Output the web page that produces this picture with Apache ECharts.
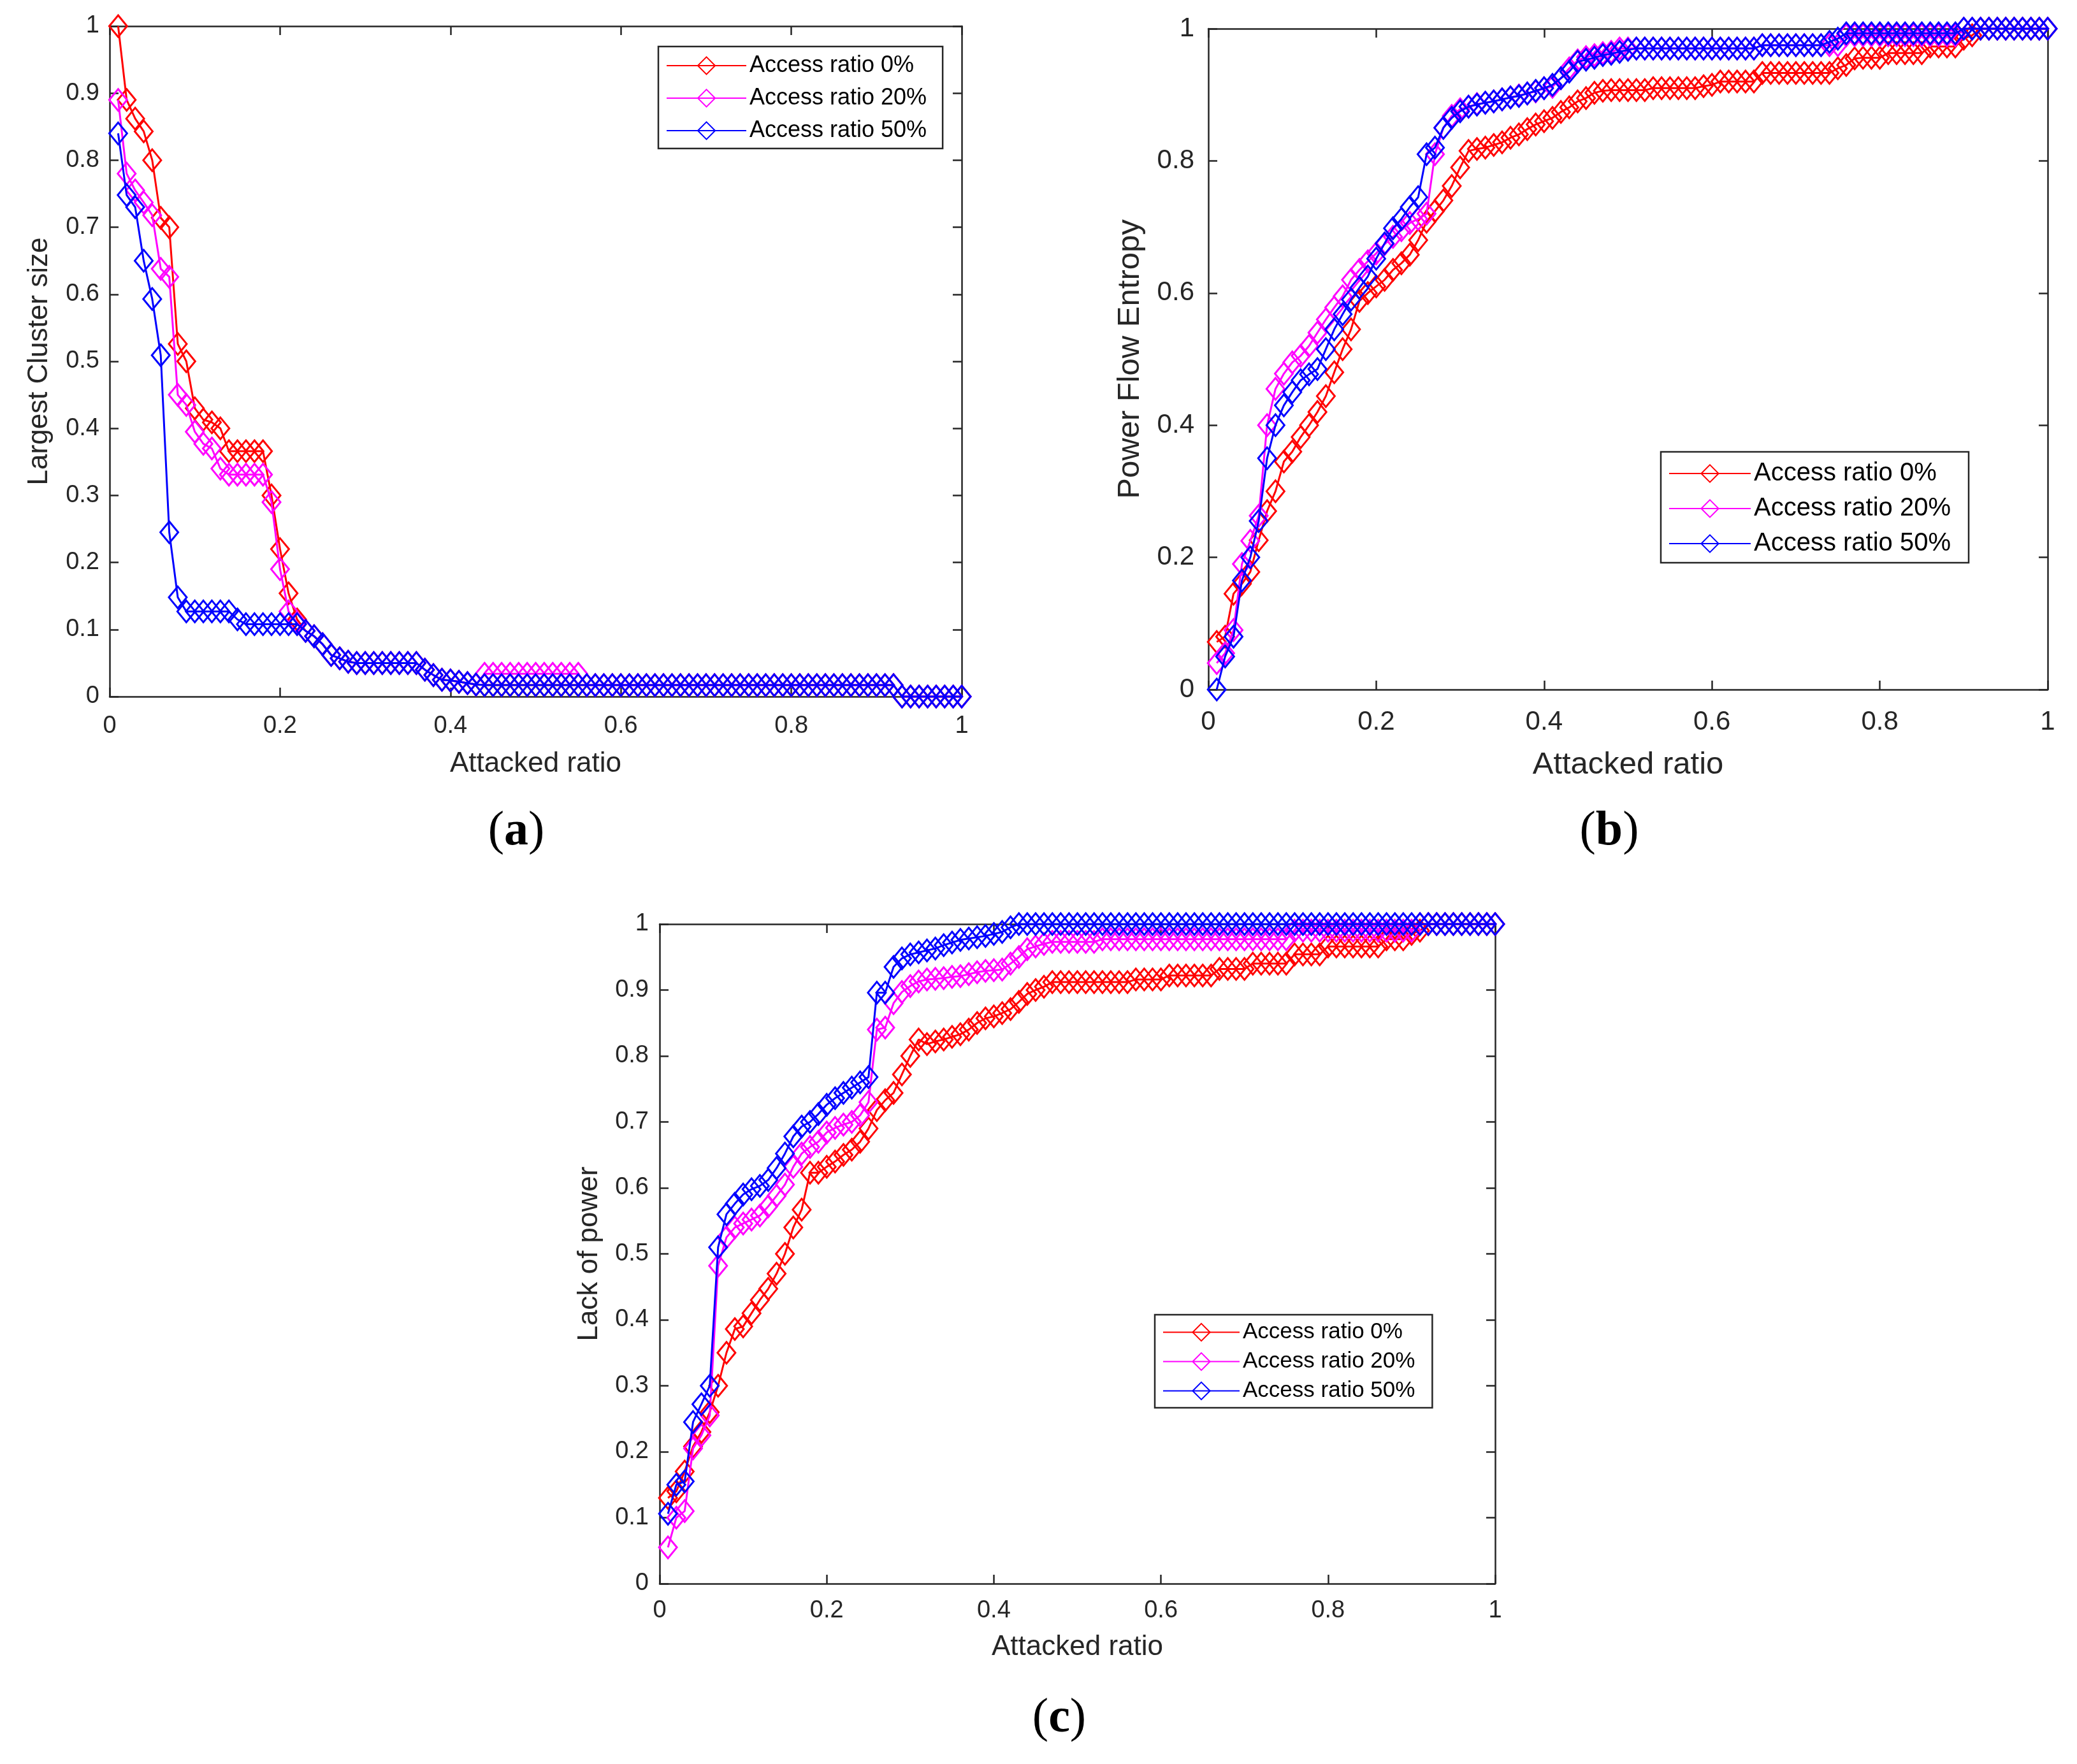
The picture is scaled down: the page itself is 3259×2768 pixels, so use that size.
<!DOCTYPE html>
<html>
<head>
<meta charset="utf-8">
<script src="https://cdn.jsdelivr.net/npm/echarts/dist/echarts.min.js"></script>
<style>
	html, body { margin: 0; padding: 0; background: #fff; }
	#chart { width: 3259px; height: 2768px; }
</style>
</head>
<body>
<div id="chart"></div>
<script>
// attacked ratio, shared by every curve
const xs = [
	0.01, 0.02, 0.03, 0.04, 0.05, 0.06, 0.07, 0.08, 0.09, 0.10,
	0.11, 0.12, 0.13, 0.14, 0.15, 0.16, 0.17, 0.18, 0.19, 0.20,
	0.21, 0.22, 0.23, 0.24, 0.25, 0.26, 0.27, 0.28, 0.29, 0.30,
	0.31, 0.32, 0.33, 0.34, 0.35, 0.36, 0.37, 0.38, 0.39, 0.40,
	0.41, 0.42, 0.43, 0.44, 0.45, 0.46, 0.47, 0.48, 0.49, 0.50,
	0.51, 0.52, 0.53, 0.54, 0.55, 0.56, 0.57, 0.58, 0.59, 0.60,
	0.61, 0.62, 0.63, 0.64, 0.65, 0.66, 0.67, 0.68, 0.69, 0.70,
	0.71, 0.72, 0.73, 0.74, 0.75, 0.76, 0.77, 0.78, 0.79, 0.80,
	0.81, 0.82, 0.83, 0.84, 0.85, 0.86, 0.87, 0.88, 0.89, 0.90,
	0.91, 0.92, 0.93, 0.94, 0.95, 0.96, 0.97, 0.98, 0.99, 1.00,
]

const seriesNames = ['Access ratio 0%', 'Access ratio 20%', 'Access ratio 50%']
const panelTags = ['a', 'b', 'c']
const yAxisNames = ['Largest Cluster size', 'Power Flow Entropy', 'Lack of power']
const xAxisName = 'Attacked ratio'

// (a) largest cluster size
const clusterAccess0 = [
	1.0, 0.89, 0.862, 0.843, 0.80, 0.714, 0.70, 0.526, 0.50, 0.43,
	0.413, 0.409, 0.40, 0.366, 0.366, 0.366, 0.366, 0.366, 0.30, 0.22,
	0.154, 0.115, 0.098, 0.09, 0.078, 0.062, 0.057, 0.052, 0.05, 0.05,
	0.05, 0.05, 0.05, 0.05, 0.05, 0.05, 0.04, 0.032, 0.025, 0.024,
	0.022, 0.02, 0.018, 0.017, 0.017, 0.017, 0.017, 0.017, 0.017, 0.017,
	0.017, 0.017, 0.017, 0.017, 0.017, 0.017, 0.017, 0.017, 0.017, 0.017,
	0.017, 0.017, 0.017, 0.017, 0.017, 0.017, 0.017, 0.017, 0.017, 0.017,
	0.017, 0.017, 0.017, 0.017, 0.017, 0.017, 0.017, 0.017, 0.017, 0.017,
	0.017, 0.017, 0.017, 0.017, 0.017, 0.017, 0.017, 0.017, 0.017, 0.017,
	0.017, 0.017, 0, 0, 0, 0, 0, 0, 0, 0,
]
const clusterAccess20 = [
	0.89, 0.78, 0.755, 0.737, 0.718, 0.638, 0.626, 0.45, 0.435, 0.395,
	0.377, 0.37, 0.34, 0.331, 0.331, 0.331, 0.331, 0.331, 0.29, 0.19,
	0.127, 0.11, 0.098, 0.09, 0.078, 0.062, 0.057, 0.052, 0.05, 0.05,
	0.05, 0.05, 0.05, 0.05, 0.05, 0.05, 0.04, 0.032, 0.025, 0.024,
	0.022, 0.02, 0.018, 0.034, 0.034, 0.034, 0.034, 0.034, 0.034, 0.034,
	0.034, 0.034, 0.034, 0.034, 0.034, 0.017, 0.017, 0.017, 0.017, 0.017,
	0.017, 0.017, 0.017, 0.017, 0.017, 0.017, 0.017, 0.017, 0.017, 0.017,
	0.017, 0.017, 0.017, 0.017, 0.017, 0.017, 0.017, 0.017, 0.017, 0.017,
	0.017, 0.017, 0.017, 0.017, 0.017, 0.017, 0.017, 0.017, 0.017, 0.017,
	0.017, 0.017, 0, 0, 0, 0, 0, 0, 0, 0,
]
const clusterAccess50 = [
	0.84, 0.748, 0.73, 0.65, 0.593, 0.509, 0.245, 0.148, 0.127, 0.127,
	0.127, 0.127, 0.127, 0.127, 0.115, 0.108, 0.108, 0.108, 0.108, 0.108,
	0.108, 0.108, 0.098, 0.09, 0.078, 0.062, 0.057, 0.052, 0.05, 0.05,
	0.05, 0.05, 0.05, 0.05, 0.05, 0.05, 0.04, 0.032, 0.025, 0.024,
	0.022, 0.02, 0.018, 0.017, 0.017, 0.017, 0.017, 0.017, 0.017, 0.017,
	0.017, 0.017, 0.017, 0.017, 0.017, 0.017, 0.017, 0.017, 0.017, 0.017,
	0.017, 0.017, 0.017, 0.017, 0.017, 0.017, 0.017, 0.017, 0.017, 0.017,
	0.017, 0.017, 0.017, 0.017, 0.017, 0.017, 0.017, 0.017, 0.017, 0.017,
	0.017, 0.017, 0.017, 0.017, 0.017, 0.017, 0.017, 0.017, 0.017, 0.017,
	0.017, 0.017, 0, 0, 0, 0, 0, 0, 0, 0,
]

// (b) power flow entropy
const entropyAccess0 = [
	0.072, 0.08, 0.145, 0.16, 0.178, 0.226, 0.27, 0.30, 0.345, 0.36,
	0.382, 0.40, 0.42, 0.444, 0.48, 0.515, 0.545, 0.588, 0.60, 0.61,
	0.62, 0.635, 0.645, 0.658, 0.68, 0.708, 0.724, 0.74, 0.762, 0.79,
	0.815, 0.818, 0.82, 0.824, 0.828, 0.835, 0.84, 0.848, 0.855, 0.86,
	0.865, 0.874, 0.881, 0.89, 0.895, 0.903, 0.906, 0.907, 0.907, 0.907,
	0.907, 0.907, 0.91, 0.91, 0.91, 0.91, 0.91, 0.91, 0.913, 0.915,
	0.92, 0.92, 0.92, 0.92, 0.92, 0.933, 0.933, 0.933, 0.933, 0.933,
	0.933, 0.933, 0.933, 0.933, 0.94, 0.945, 0.955, 0.956, 0.956, 0.956,
	0.963, 0.963, 0.963, 0.963, 0.963, 0.973, 0.973, 0.973, 0.973, 0.985,
	0.99, 1.0, 1.0, 1.0, 1.0, 1.0, 1.0, 1.0, 1.0, 1.0,
]
const entropyAccess20 = [
	0.04, 0.055, 0.09, 0.19, 0.225, 0.263, 0.40, 0.455, 0.478, 0.495,
	0.505, 0.52, 0.54, 0.56, 0.578, 0.595, 0.62, 0.635, 0.648, 0.66,
	0.674, 0.685, 0.695, 0.706, 0.712, 0.72, 0.81, 0.85, 0.868, 0.878,
	0.882, 0.886, 0.888, 0.89, 0.893, 0.896, 0.899, 0.902, 0.905, 0.91,
	0.912, 0.925, 0.94, 0.952, 0.957, 0.96, 0.963, 0.965, 0.97, 0.97,
	0.97, 0.97, 0.97, 0.97, 0.97, 0.97, 0.97, 0.97, 0.97, 0.97,
	0.97, 0.97, 0.97, 0.97, 0.97, 0.975, 0.975, 0.975, 0.975, 0.975,
	0.975, 0.975, 0.975, 0.975, 0.975, 0.99, 0.99, 0.99, 0.99, 0.99,
	0.99, 0.99, 0.99, 0.99, 0.99, 0.99, 0.99, 0.99, 0.99, 1.0,
	1.0, 1.0, 1.0, 1.0, 1.0, 1.0, 1.0, 1.0, 1.0, 1.0,
]
const entropyAccess50 = [
	0, 0.05, 0.08, 0.165, 0.2, 0.255, 0.35, 0.40, 0.43, 0.45,
	0.468, 0.477, 0.485, 0.515, 0.545, 0.568, 0.59, 0.608, 0.625, 0.652,
	0.675, 0.698, 0.712, 0.73, 0.745, 0.81, 0.82, 0.85, 0.865, 0.875,
	0.882, 0.885, 0.888, 0.89, 0.893, 0.896, 0.898, 0.902, 0.906, 0.91,
	0.915, 0.925, 0.935, 0.95, 0.953, 0.956, 0.96, 0.962, 0.965, 0.968,
	0.97, 0.97, 0.97, 0.97, 0.97, 0.97, 0.97, 0.97, 0.97, 0.97,
	0.97, 0.97, 0.97, 0.97, 0.97, 0.975, 0.975, 0.975, 0.975, 0.975,
	0.975, 0.975, 0.975, 0.98, 0.985, 0.993, 0.993, 0.993, 0.993, 0.993,
	0.993, 0.993, 0.993, 0.993, 0.993, 0.993, 0.993, 0.993, 0.993, 1.0,
	1.0, 1.0, 1.0, 1.0, 1.0, 1.0, 1.0, 1.0, 1.0, 1.0,
]

// (c) lack of power
const lackAccess0 = [
	0.13, 0.14, 0.17, 0.208, 0.23, 0.26, 0.30, 0.35, 0.386, 0.39,
	0.41, 0.43, 0.447, 0.47, 0.50, 0.54, 0.567, 0.623, 0.623, 0.632,
	0.64, 0.65, 0.658, 0.67, 0.69, 0.718, 0.733, 0.744, 0.772, 0.80,
	0.825, 0.818, 0.822, 0.825, 0.829, 0.833, 0.84, 0.85, 0.857, 0.86,
	0.865, 0.871, 0.882, 0.894, 0.90, 0.905, 0.912, 0.912, 0.912, 0.912,
	0.912, 0.912, 0.912, 0.912, 0.912, 0.912, 0.916, 0.916, 0.916, 0.916,
	0.922, 0.922, 0.922, 0.922, 0.922, 0.922, 0.932, 0.932, 0.932, 0.932,
	0.94, 0.94, 0.94, 0.94, 0.94, 0.954, 0.954, 0.954, 0.954, 0.966,
	0.966, 0.966, 0.966, 0.966, 0.966, 0.966, 0.977, 0.977, 0.977, 0.985,
	0.99, 1.0, 1.0, 1.0, 1.0, 1.0, 1.0, 1.0, 1.0, 1.0,
]
const lackAccess20 = [
	0.055, 0.1, 0.11, 0.205, 0.225, 0.255, 0.482, 0.525, 0.54, 0.546,
	0.552, 0.558, 0.572, 0.588, 0.605, 0.632, 0.652, 0.662, 0.67, 0.684,
	0.691, 0.696, 0.70, 0.71, 0.73, 0.84, 0.843, 0.88, 0.897, 0.906,
	0.913, 0.916, 0.917, 0.918, 0.92, 0.921, 0.924, 0.927, 0.929, 0.93,
	0.931, 0.94, 0.95, 0.962, 0.966, 0.97, 0.973, 0.973, 0.973, 0.973,
	0.973, 0.973, 0.977, 0.977, 0.977, 0.977, 0.977, 0.977, 0.977, 0.977,
	0.977, 0.977, 0.977, 0.977, 0.977, 0.977, 0.977, 0.977, 0.977, 0.977,
	0.977, 0.977, 0.977, 0.977, 0.977, 0.99, 0.99, 0.99, 0.99, 0.99,
	0.99, 0.99, 0.99, 0.99, 0.99, 0.99, 0.99, 0.99, 0.99, 0.99,
	1.0, 1.0, 1.0, 1.0, 1.0, 1.0, 1.0, 1.0, 1.0, 1.0,
]
const lackAccess50 = [
	0.106, 0.15, 0.155, 0.245, 0.272, 0.30, 0.51, 0.56, 0.576, 0.59,
	0.598, 0.603, 0.612, 0.63, 0.652, 0.678, 0.693, 0.70, 0.712, 0.726,
	0.736, 0.744, 0.752, 0.76, 0.768, 0.896, 0.896, 0.935, 0.948, 0.954,
	0.957, 0.96, 0.963, 0.968, 0.972, 0.976, 0.978, 0.98, 0.982, 0.985,
	0.988, 0.995, 1.0, 1.0, 1.0, 1.0, 1.0, 1.0, 1.0, 1.0,
	1.0, 1.0, 1.0, 1.0, 1.0, 1.0, 1.0, 1.0, 1.0, 1.0,
	1.0, 1.0, 1.0, 1.0, 1.0, 1.0, 1.0, 1.0, 1.0, 1.0,
	1.0, 1.0, 1.0, 1.0, 1.0, 1.0, 1.0, 1.0, 1.0, 1.0,
	1.0, 1.0, 1.0, 1.0, 1.0, 1.0, 1.0, 1.0, 1.0, 1.0,
	1.0, 1.0, 1.0, 1.0, 1.0, 1.0, 1.0, 1.0, 1.0, 1.0,
]

const FONT = 'Liberation Sans'
const INK = '#262626'
const lineColors = ['#ff0000', '#ff00ff', '#0000ff']

// one entry per panel: grid box, y step, text sizes and gaps
const panels = [
	{
		grid: { left: 172, top: 41, width: 1337, height: 1052 },
		yStep: 0.1, curves: [clusterAccess0, clusterAccess20, clusterAccess50],
		tickSize: 38, nameSize: 44, xMargin: 28, yMargin: 16, xNameGap: 84, yNameGap: 88,
		legend: { left: 1033, top: 73, fontSize: 36, itemWidth: 125, itemGap: 15, padding: [12, 25, 10, 12] },
		tag: [810, 1305],
	},
	{
		grid: { left: 1896, top: 45, width: 1317, height: 1037 },
		yStep: 0.2, curves: [entropyAccess0, entropyAccess20, entropyAccess50],
		tickSize: 42, nameSize: 49, xMargin: 30, yMargin: 22, xNameGap: 94, yNameGap: 98,
		legend: { left: 2606, top: 709, fontSize: 40, itemWidth: 128, itemGap: 15, padding: [14, 28, 10, 12] },
		tag: [2525, 1305],
	},
	{
		grid: { left: 1035, top: 1450, width: 1311, height: 1035 },
		yStep: 0.1, curves: [lackAccess0, lackAccess20, lackAccess50],
		tickSize: 38, nameSize: 44, xMargin: 24, yMargin: 17, xNameGap: 78, yNameGap: 88,
		legend: { left: 1812, top: 2063, fontSize: 35, itemWidth: 120, itemGap: 11, padding: [10, 27, 9, 12] },
		tag: [1662, 2697],
	},
]

axisLook = (showLabel, margin, fontSize) => ({
	axisLine: { show: true, onZero: false, lineStyle: { color: INK, width: 2.5 } },
	axisTick: { show: true, inside: true, length: 14, lineStyle: { color: INK, width: 2.5 } },
	axisLabel: { show: showLabel, margin: margin, fontFamily: FONT, fontSize: fontSize, color: INK },
	splitLine: { show: false },
})

buildOption = () => {
	const grid = []
	const xAxis = []
	const yAxis = []
	const mirrorX = []
	const mirrorY = []
	const series = []
	const legend = []
	const graphic = []

	panels.forEach((p, gi) => {
		grid.push(Object.assign({ containLabel: false }, p.grid))

		xAxis.push(Object.assign({
			type: 'value', gridIndex: gi, position: 'bottom', min: 0, max: 1, interval: 0.2,
			name: xAxisName, nameLocation: 'middle', nameGap: p.xNameGap,
			nameTextStyle: { fontFamily: FONT, fontSize: p.nameSize, color: INK },
		}, axisLook(true, p.xMargin, p.tickSize)))
		mirrorX.push(Object.assign({
			type: 'value', gridIndex: gi, position: 'top', min: 0, max: 1, interval: 0.2,
		}, axisLook(false, 0, p.tickSize)))

		yAxis.push(Object.assign({
			type: 'value', gridIndex: gi, position: 'left', min: 0, max: 1, interval: p.yStep,
			name: yAxisNames[gi], nameLocation: 'middle', nameGap: p.yNameGap,
			nameTextStyle: { fontFamily: FONT, fontSize: p.nameSize, color: INK },
		}, axisLook(true, p.yMargin, p.tickSize)))
		mirrorY.push(Object.assign({
			type: 'value', gridIndex: gi, position: 'right', min: 0, max: 1, interval: p.yStep,
		}, axisLook(false, 0, p.tickSize)))

		p.curves.forEach((ys, si) => {
			series.push({
				type: 'line',
				name: seriesNames[si],
				xAxisIndex: gi,
				yAxisIndex: gi,
				data: xs.map((x, i) => [x, ys[i]]),
				symbol: 'diamond',
				symbolSize: [28, 34],
				showSymbol: true,
				showAllSymbol: true,
				clip: false,
				z: 2 + si,
				lineStyle: { color: lineColors[si], width: 3 },
				itemStyle: { color: 'rgba(255,255,255,0)', borderColor: lineColors[si], borderWidth: 3 },
				emphasis: { disabled: true },
			})
		})

		legend.push({
			orient: 'vertical',
			left: p.legend.left,
			top: p.legend.top,
			data: seriesNames,
			selectedMode: false,
			itemWidth: p.legend.itemWidth,
			itemHeight: 34,
			itemGap: p.legend.itemGap,
			padding: p.legend.padding,
			backgroundColor: '#fff',
			borderColor: INK,
			borderWidth: 2.5,
			borderRadius: 0,
			textStyle: { fontFamily: FONT, fontSize: p.legend.fontSize, color: '#000' },
		})

		graphic.push({
			type: 'text',
			x: p.tag[0],
			y: p.tag[1],
			style: {
				text: '({b|' + panelTags[gi] + '})',
				fontFamily: 'Liberation Serif',
				fontSize: 76,
				fill: '#000',
				align: 'center',
				verticalAlign: 'middle',
				rich: { b: { fontFamily: 'Liberation Serif', fontSize: 76, fontWeight: 'bold', fill: '#000' } },
			},
		})
	})

	return {
		backgroundColor: '#fff',
		animation: false,
		tooltip: { show: false },
		grid: grid,
		xAxis: xAxis.concat(mirrorX),
		yAxis: yAxis.concat(mirrorY),
		legend: legend,
		series: series,
		graphic: graphic,
	}
}

var chart = echarts.init(document.getElementById('chart'), null, { renderer: 'canvas' })
chart.setOption(buildOption())
</script>
</body>
</html>
